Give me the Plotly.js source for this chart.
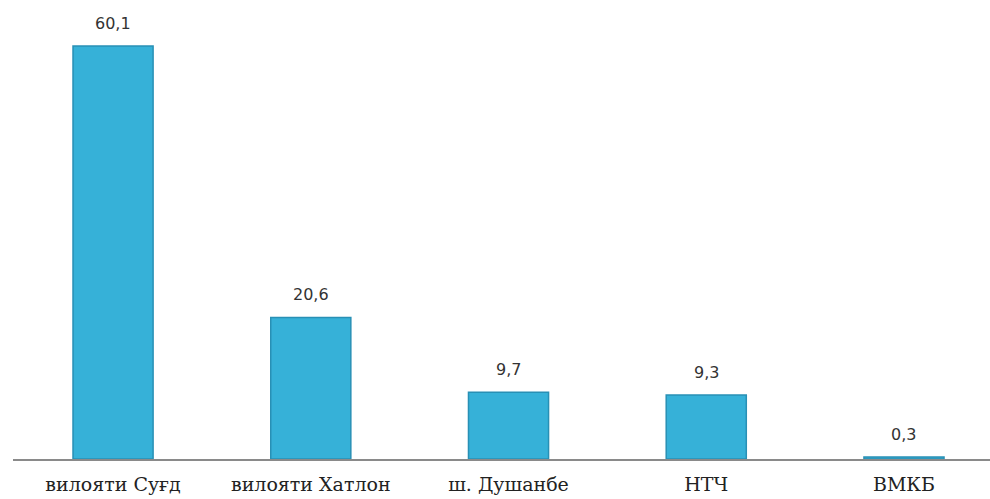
<!DOCTYPE html>
<html>
<head>
<meta charset="utf-8">
<script src="https://cdn.plot.ly/plotly-3.0.1.min.js"></script>
<style>html,body{margin:0;padding:0;background:#fff;}#chart{width:990px;height:499px;}</style>
</head>
<body>
<div id="chart"></div>
<script>
var categories = ["вилояти Суғд", "вилояти Хатлон", "ш. Душанбе", "НТЧ", "ВМКБ"];
var values = [60.1, 20.6, 9.7, 9.3, 0.3];
var valueLabels = values.map(function(v){ return v.toFixed(1).replace('.', ','); });

var trace = {
  type: 'bar',
  x: categories,
  y: values,
  width: 0.405,
  marker: {color: '#36b1d8', line: {color: '#2890b5', width: 1.5}},
  hoverinfo: 'none'
};

var annotations = categories.map(function(c, i){
  return {
    x: c, y: values[i], xref: 'x', yref: 'y',
    text: valueLabels[i], showarrow: false,
    yanchor: 'bottom', yshift: 11,
    font: {family: 'DejaVu Sans', size: 16, color: '#333'}
  };
});

var layout = {
  width: 990, height: 499,
  margin: {l: 13, r: 0, t: 0, b: 40},
  paper_bgcolor: '#fff', plot_bgcolor: '#fff',
  showlegend: false,
  xaxis: {
    type: 'category',
    range: [-0.506, 4.435],
    showline: true, linecolor: '#8a8a8a', linewidth: 1.5,
    ticks: '', showgrid: false, zeroline: false,
    tickfont: {family: 'DejaVu Serif', size: 19, color: '#222'},
    ticklabelstandoff: 8
  },
  yaxis: {
    range: [0, 66.8],
    visible: false, showgrid: false, zeroline: false
  },
  annotations: annotations
};

Plotly.newPlot('chart', [trace], layout, {displayModeBar: false, staticPlot: true});
</script>
</body>
</html>
